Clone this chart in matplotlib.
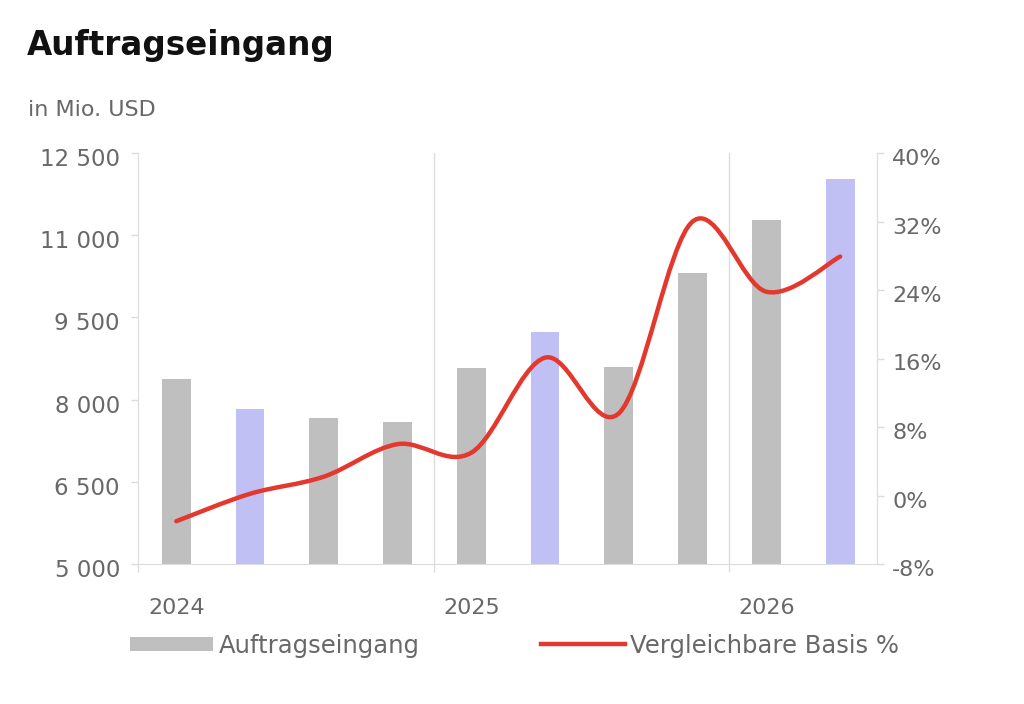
import matplotlib
matplotlib.use("Agg")
import matplotlib.pyplot as plt
import matplotlib.transforms as mtransforms
from matplotlib.path import Path
from matplotlib.patches import PathPatch, Patch
from matplotlib.lines import Line2D
import numpy as np

# ---- data ----
years = ["2024", "2025", "2026"]
orders = [8380, 7830, 7660, 7590, 8580, 9230, 8600, 10310, 11280, 12030]
comparable_pct = [-3.0, 0.2, 2.2, 6.0, 5.0, 16.1, 9.6, 32.0, 23.8, 27.9]
highlight = [False, True, False, False, False, True, False, False, False, True]
left_ticks = [5000, 6500, 8000, 9500, 11000, 12500]
right_ticks = [-8, 0, 8, 16, 24, 32, 40]

GREY = "#bfbfbf"
PURPLE = "#c0c0f4"
RED = "#e3382e"
GRID = "#dcdcdc"
TXT = "#686868"

plt.rcParams['font.family'] = ['DejaVu Sans']

fig = plt.figure(figsize=(10.24, 7.04), dpi=100)
ax = fig.add_axes([138/1024, 1-564/704, (877-138)/1024, (564-153)/704])

x = np.arange(len(orders))
colors = [PURPLE if h else GREY for h in highlight]
ax.bar(x, np.array(orders) - left_ticks[0], bottom=left_ticks[0], width=0.39, color=colors, zorder=2)

ax.set_xlim(-0.52, len(orders) - 0.5)
ax.set_ylim(left_ticks[0], left_ticks[-1])
ax.set_yticks(left_ticks)
ax.set_yticklabels([f"{v:,}".replace(",", " ") for v in left_ticks])

# group separators
seps = [3.5, 7.5]
for s in seps:
    ax.axvline(s, color=GRID, lw=1, zorder=1)
ax.set_xticks([-0.52] + seps)
ax.set_xticklabels([])
ax.tick_params(axis='x', length=6, color=GRID, width=1)
ax.tick_params(axis='y', length=5, color=GRID, width=1, labelsize=16.5, labelcolor=TXT, pad=8)

ax.spines["top"].set_visible(False)
for sp in ["left", "bottom", "right"]:
    ax.spines[sp].set_color(GRID)

shift = mtransforms.ScaledTranslation(0, -4/100, fig.dpi_scale_trans)
for lbl in ax.get_yticklabels():
    lbl.set_transform(lbl.get_transform() + shift)

for i, yl in enumerate(years):
    ax.text(i * 4, -0.107, yl, transform=ax.get_xaxis_transform(), ha='center', va='center',
            fontsize=16, color=TXT)

ax2 = ax.twinx()
ax2.set_ylim(right_ticks[0], right_ticks[-1])
ax2.set_yticks(right_ticks)
ax2.set_yticklabels([f"{v}%" for v in right_ticks])
ax2.tick_params(axis='y', length=5, color=GRID, width=1, labelsize=16, labelcolor=TXT, pad=6)
for sp in ["top", "left", "bottom"]:
    ax2.spines[sp].set_visible(False)
ax2.spines["right"].set_color(GRID)
for lbl in ax2.get_yticklabels():
    lbl.set_transform(lbl.get_transform() + shift)

# smoothed line (Catmull-Rom as cubic Bezier)
pts = np.column_stack([x, comparable_pct]).astype(float)
n = len(pts)
verts = [tuple(pts[0])]
codes = [Path.MOVETO]
for i in range(n - 1):
    p0 = pts[i - 1] if i > 0 else pts[i]
    p1 = pts[i]
    p2 = pts[i + 1]
    p3 = pts[i + 2] if i + 2 < n else pts[i + 1]
    c1 = p1 + (p2 - p0) / 6.0
    c2 = p2 - (p3 - p1) / 6.0
    verts += [tuple(c1), tuple(c2), tuple(p2)]
    codes += [Path.CURVE4] * 3
ax2.add_patch(PathPatch(Path(verts, codes), facecolor='none', edgecolor=RED, lw=3.2,
                        capstyle='round', joinstyle='round', zorder=3))

# titles
fig.text(27/1024, 1-46/704, "Auftragseingang", fontsize=23.5, fontweight='bold', color='#111111',
         ha='left', va='center', family='DejaVu Sans')
fig.text(28/1024, 1-110/704, "in Mio. USD", fontsize=16, color=TXT, ha='left', va='center')

# legends
leg_fs = 17.5
fig.legend(handles=[Patch(facecolor=GREY, edgecolor='none')], labels=["Auftragseingang"],
           loc='center left', bbox_to_anchor=(130/1024, 1-646/704), frameon=False,
           fontsize=leg_fs, handlelength=3.4, handleheight=0.5, handletextpad=0.25,
           borderpad=0, borderaxespad=0, labelcolor=TXT)
fig.legend(handles=[Line2D([0], [0], color=RED, lw=3.2)], labels=["Vergleichbare Basis %"],
           loc='center left', bbox_to_anchor=(541/1024, 1-646/704), frameon=False,
           fontsize=leg_fs, handlelength=3.45, handletextpad=0.2,
           borderpad=0, borderaxespad=0, labelcolor=TXT)

fig.savefig("out.png", dpi=100)
